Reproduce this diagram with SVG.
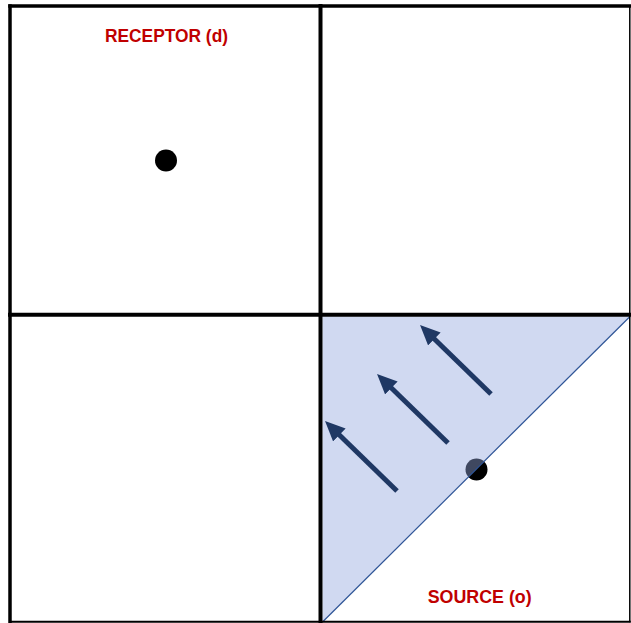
<svg xmlns="http://www.w3.org/2000/svg" width="631" height="623" viewBox="0 0 631 623">
  <style>
    .grid { stroke: #000000; fill: none; stroke-linecap: square; }
    .lbl { font-family: "Liberation Sans", Arial, sans-serif; font-weight: bold; font-size: 18.5px; fill: #C00000; text-anchor: middle; }
    .dot { fill: #000000; }
    .arrow { stroke: #1F3864; stroke-width: 5; fill: none; marker-end: url(#head); }
  </style>
  <defs>
    <marker id="head" markerUnits="userSpaceOnUse" viewBox="0 0 20 18" markerWidth="20" markerHeight="18" refX="10" refY="9" orient="auto">
      <path d="M0,0 L20,9 L0,18 z" fill="#1F3864"/>
    </marker>
  </defs>
  <rect width="631" height="623" fill="#ffffff"/>

  <g id="source-dot">
    <circle class="dot" cx="476.5" cy="469.5" r="11"/>
  </g>

  <g id="zone">
    <polygon points="322.5,316.5 630,316.5 322.5,622" fill="rgb(147,167,222)" fill-opacity="0.43"/>
    <line x1="322.5" y1="622" x2="630" y2="316.5" stroke="#2F5597" stroke-width="1.2"/>
  </g>

  <g id="grid">
    <line class="grid" x1="10" y1="6" x2="629.5" y2="6" stroke-width="3.5"/>
    <line class="grid" x1="10" y1="6" x2="10" y2="621.5" stroke-width="3.5"/>
    <line class="grid" x1="629.8" y1="6" x2="629.8" y2="621.5" stroke-width="1.5"/>
    <line class="grid" x1="10" y1="621.8" x2="629.8" y2="621.8" stroke-width="2"/>
    <line class="grid" x1="320.5" y1="6" x2="320.5" y2="621.5" stroke-width="4"/>
    <line class="grid" x1="10" y1="314.7" x2="629.5" y2="314.7" stroke-width="4"/>
  </g>

  <g id="receptor">
    <text class="lbl" x="166.5" y="42" textLength="123" lengthAdjust="spacingAndGlyphs">RECEPTOR (d)</text>
    <circle class="dot" cx="166" cy="160.5" r="11"/>
  </g>

  <g id="source">
    <text class="lbl" x="479.7" y="602.5" textLength="104" lengthAdjust="spacingAndGlyphs">SOURCE (o)</text>
  </g>

  <g id="connectors">
    <line class="arrow" x1="397" y1="491" x2="332.2" y2="428"/>
    <line class="arrow" x1="448" y1="443" x2="384.2" y2="381"/>
    <line class="arrow" x1="491" y1="394" x2="427.2" y2="332"/>
  </g>
</svg>
